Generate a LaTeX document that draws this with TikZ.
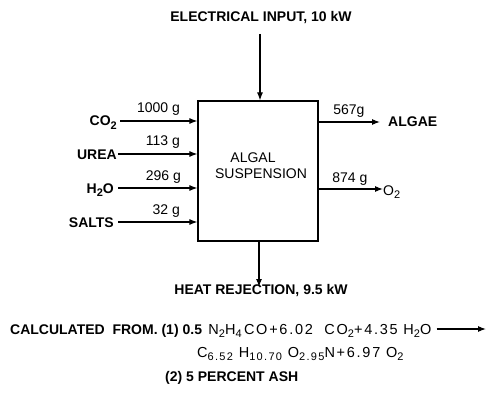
\documentclass[tikz,border=0pt]{standalone}
\usepackage{fontspec}
\setmainfont{Liberation Sans}
\newfontfamily\widefont[LetterSpace=12]{Liberation Sans}
\usetikzlibrary{arrows.meta}
\newcommand\mysub[1]{\raisebox{-3.2pt}{\fontsize{11}{12}\selectfont #1}}
\begin{document}
\begin{tikzpicture}[x=1pt,y=-1pt,
  lab/.style={font=\fontsize{14}{16}\selectfont, text height=10pt, text depth=0pt, inner sep=0pt},
  boldlab/.style={lab, font=\fontsize{14}{16}\selectfont\bfseries},
  widelab/.style={lab, font=\fontsize{14.5}{16}\selectfont\widefont},
  flow/.style={line width=1.1pt, -{Latex[length=8pt,width=6pt]}},
  numlab/.style={font=\fontsize{14}{16}\selectfont, anchor=base east, inner sep=0pt},
  boxstyle/.style={draw, line width=1.2pt, minimum width=120pt, minimum height=140pt, inner sep=0pt}]
\useasboundingbox (0,0) rectangle (487,393);

% central box
\node[boxstyle] (box) at (258,171) {};
\node[lab] (algal) at (253,157) {ALGAL};
\node[lab] (susp) at (261,173) {SUSPENSION};

% electrical input
\node[boldlab] (elec) at (261,17) {ELECTRICAL INPUT, 10 kW};
\coordinate (etail) at (260,34);
\draw[flow] (etail) -- (etail |- box.north);

% inputs
\node[boldlab, anchor=east] (co2) at (117,121) {CO\mysub{2}};
\node[boldlab, anchor=east] (urea) at (117,154) {UREA};
\node[boldlab, anchor=east] (h2o) at (114,188) {H\mysub{2}O};
\node[boldlab, anchor=east] (salts) at (114,222) {SALTS};
\draw[flow] ([xshift=3pt]co2.east) -- (co2.east -| box.west)
  node[numlab, pos=1, xshift=-17pt, yshift=8pt] {1000 g};
\draw[flow] ([xshift=1pt]urea.east) -- (urea.east -| box.west)
  node[numlab, pos=1, xshift=-17pt, yshift=8pt] {113 g};
\draw[flow] ([xshift=4pt]h2o.east) -- (h2o.east -| box.west)
  node[numlab, pos=1, xshift=-16pt, yshift=8pt] {296 g};
\draw[flow] ([xshift=4pt]salts.east) -- (salts.east -| box.west)
  node[numlab, pos=1, xshift=-17pt, yshift=8pt] {32 g};

% outputs
\node[boldlab, anchor=west] (algae) at (388,122) {ALGAE};
\node[lab, anchor=west] (o2) at (383,190) {O\mysub{2}};
\draw[flow] (algae.west -| box.east) -- ([xshift=-8pt]algae.west)
  node[numlab, pos=1, xshift=-15pt, yshift=8pt] {567g};
\draw[flow] (box.east |- 0,189) coordinate (o2start) -- (o2start -| o2.west)
  node[numlab, pos=1, xshift=-15pt, yshift=7pt] {874 g};

% heat rejection
\node[boldlab] (heat) at (261,289) {HEAT REJECTION, 9.5 kW};
\coordinate (hrtip) at (259,287);
\draw[flow] (hrtip |- box.south) -- (hrtip);

% notes
\node[boldlab, anchor=base west] (calc) at (10,334) {CALCULATED\ \ FROM. (1) 0.5};
\node[widelab, anchor=base west] (f1) at ([xshift=6pt]calc.base east)
  {N\mysub{2}H\mysub{4}\,CO+6.02\ \ CO\mysub{2}+4.35 H\mysub{2}O};
\coordinate (f1end) at (486,329);
\draw[flow] ([xshift=5pt]f1.east) -- (f1end);
\node[widelab, anchor=base west] (f2) at (197,357)
  {C\mysub{6.52} H\mysub{10.70} O\mysub{2.95}N+6.97 O\mysub{2}};
\node[boldlab, anchor=base west] (ash) at (165,381) {(2) 5 PERCENT ASH};
\end{tikzpicture}
\end{document}
